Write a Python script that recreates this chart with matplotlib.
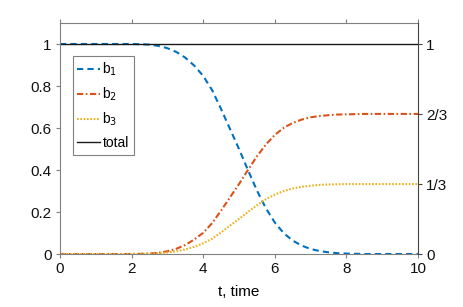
import matplotlib
matplotlib.use("Agg")
import matplotlib.pyplot as plt

t = [0.0, 0.25, 0.5, 0.75, 1.0, 1.25, 1.5, 1.75, 2.0, 2.25, 2.5, 2.75, 3.0, 3.25, 3.5, 3.75,
     4.0, 4.25, 4.5, 4.75, 5.0, 5.25, 5.5, 5.75, 6.0, 6.25, 6.5, 6.75, 7.0, 7.25, 7.5, 7.75,
     8.0, 8.25, 8.5, 8.75, 9.0, 9.25, 9.5, 9.75, 10.0]
b1 = [1.0, 1.0, 1.0, 1.0, 1.0, 1.0, 1.0, 1.0, 1.0,
      0.999, 0.997, 0.991, 0.98, 0.962, 0.935, 0.897, 0.848, 0.78, 0.69, 0.595, 0.50, 0.40,
      0.303, 0.218, 0.15, 0.099, 0.064, 0.04, 0.024, 0.014, 0.008, 0.004, 0.002, 0.001,
      0.0, 0.0, 0.0, 0.0, 0.0, 0.0, 0.0]
b2 = [0.0, 0.0, 0.0, 0.0, 0.0, 0.0, 0.0, 0.0, 0.0,
      0.001, 0.002, 0.006, 0.013, 0.025, 0.043, 0.069, 0.101, 0.147, 0.207, 0.270, 0.333, 0.400,
      0.465, 0.521, 0.567, 0.601, 0.624, 0.640, 0.651, 0.657, 0.661, 0.664, 0.665, 0.666,
      0.667, 0.667, 0.667, 0.667, 0.667, 0.667, 0.667]
b3 = [0.0, 0.0, 0.0, 0.0, 0.0, 0.0, 0.0, 0.0, 0.0,
      0.0, 0.001, 0.003, 0.007, 0.013, 0.022, 0.034, 0.051, 0.073, 0.103, 0.135, 0.167, 0.200,
      0.232, 0.261, 0.283, 0.300, 0.312, 0.320, 0.325, 0.329, 0.331, 0.332, 0.333, 0.333,
      0.333, 0.333, 0.333, 0.333, 0.333, 0.333, 0.333]
total = [1.0] * len(t)

xticks = [0, 2, 4, 6, 8, 10]
yticks_left = [0, 0.2, 0.4, 0.6, 0.8, 1]
yticks_left_labels = ["0", "0.2", "0.4", "0.6", "0.8", "1"]
yticks_right = [0, 1/3, 2/3, 1]
yticks_right_labels = ["0", "1/3", "2/3", "1"]

plt.rcParams['font.family'] = ['Liberation Sans', 'DejaVu Sans']
fig = plt.figure(figsize=(4.63, 3.07), dpi=100)
ax = fig.add_axes([60/463, 1-254/307, (418-60)/463, (254-23)/307])

c1, c2, c3 = '#0072BD', '#D95319', '#EDB120'
ax.plot(t, b1, color=c1, lw=1.5, ls=(0, (3.0, 2.0)), label='b$_1$')
ax.plot(t, b2, color=c2, lw=1.5, ls=(0, (3.0, 1.2, 0.8, 1.2)), label='b$_2$')
ax.plot(t, b3, color=c3, lw=1.5, ls=(0, (0.8, 0.8)), label='b$_3$')
ax.plot(t, total, color='#1a1a1a', lw=1.0, label='total')

ax.set_xlim(0, 10)
ax.set_ylim(0, 1.1)
ax.set_xticks(xticks)
ax.set_yticks(yticks_left)
ax.set_yticklabels(yticks_left_labels)
ax.set_xlabel('t, time', fontsize=11, labelpad=6)

axc = '#808080'
for s in ['left', 'bottom', 'top']:
    ax.spines[s].set_color(axc)
    ax.spines[s].set_linewidth(0.8)
ax.spines['right'].set_visible(False)
ax.tick_params(axis='both', direction='out', length=3, width=0.8, color=axc,
               labelsize=11, labelcolor='#111111', pad=3)
ax.tick_params(axis='x', top=True)

ax2 = ax.twinx()
ax2.set_ylim(0, 1.1)
ax2.set_yticks(yticks_right)
ax2.set_yticklabels(yticks_right_labels)
for s in ['left', 'bottom', 'top']:
    ax2.spines[s].set_visible(False)
ax2.spines['right'].set_color('#444444')
ax2.spines['right'].set_linewidth(0.8)
ax2.tick_params(axis='y', direction='out', length=3, width=0.8, color='#444444',
                labelsize=11, labelcolor='#111111', pad=3)

leg = ax.legend(loc='upper left', bbox_to_anchor=(12.5/358, 1 - 33/231), fontsize=10,
                handlelength=1.6, handletextpad=0.2, borderpad=0.35, labelspacing=0.55,
                fancybox=False, framealpha=1, edgecolor='#808080', borderaxespad=0)
leg.get_frame().set_linewidth(0.8)

fig.savefig('out.png', dpi=100)
